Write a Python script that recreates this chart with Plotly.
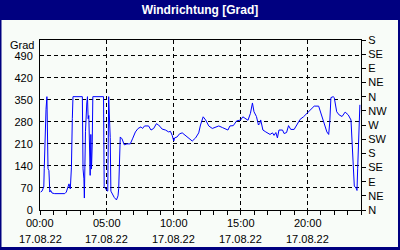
import plotly.graph_objects as go

# ---- data (minutes since 00:00 on 17.08.22, wind direction in degrees)
minutes = [3, 9, 13, 17, 19, 24, 27, 31, 36, 40, 44, 48, 54, 66, 111, 118, 126, 130, 136, 141, 145, 148,
           190, 193, 197, 199, 204, 207, 210, 213, 216, 219, 222, 225, 228, 231, 234, 237,
           285, 288, 300, 304, 308, 315, 318, 324, 333, 343, 350, 353, 357,
           360, 368, 378, 390, 405, 415, 428, 440, 453, 460, 469, 487, 498, 510, 522, 532, 548, 563, 577,
           585, 593, 600, 604, 615, 626, 638, 653, 667, 683, 698, 712, 720, 732, 743, 757, 773, 788, 802,
           818, 833, 843, 852, 867, 882, 892, 900, 910, 923, 933, 944, 953, 960, 971, 980, 986, 990, 994,
           1000, 1013, 1023, 1032, 1043, 1050, 1058, 1065, 1072, 1088, 1095, 1106, 1115, 1125, 1140, 1155,
           1167, 1182, 1197, 1215, 1230, 1250, 1260, 1270, 1279, 1287, 1295, 1300, 1305, 1315, 1320, 1331,
           1342, 1355, 1369, 1383, 1395, 1400, 1405, 1410, 1418, 1422, 1425, 1428, 1435]
grad = [57, 60, 67, 73, 131, 312, 320, 360, 131, 125, 57, 62, 54, 52, 52, 57, 73, 83, 67, 136, 290, 360,
        360, 131, 99, 38, 250, 310, 340, 360, 290, 300, 200, 110, 240, 130, 200, 360,
        360, 74, 62, 60, 360, 230, 60, 50, 40, 32, 45, 68, 185,
        232, 226, 207, 210, 210, 226, 248, 259, 264, 259, 267, 267, 254, 259, 274, 270, 257, 254, 248,
        250, 237, 219, 229, 232, 242, 245, 237, 228, 219, 229, 245, 270, 296, 286, 267, 259, 262, 267,
        262, 256, 254, 267, 268, 283, 285, 286, 296, 290, 285, 307, 340, 312, 297, 270, 275, 286, 270,
        254, 248, 243, 240, 245, 237, 246, 229, 254, 254, 243, 246, 268, 256, 256, 272,
        288, 296, 306, 317, 330, 330, 307, 291, 270, 248, 240, 280, 357, 360, 357, 312,
        302, 297, 311, 302, 286, 216, 131, 76, 70, 62, 131, 222, 334]

x_tickvals = [0, 300, 600, 900, 1200]
x_time_labels = ["00:00", "05:00", "10:00", "15:00", "20:00"]
x_date_labels = ["17.08.22", "17.08.22", "17.08.22", "17.08.22", "17.08.22"]
y_tickvals = [0, 70, 140, 210, 280, 350, 420, 490]
dir_tickvals = [0, 45, 90, 135, 180, 225, 270, 315, 360, 405, 450, 495, 540]
dir_labels = ["N", "NE", "E", "SE", "S", "SW", "W", "NW", "N", "NE", "E", "SE", "S"]

FONT = "Liberation Sans"
NAVY = "#000080"
BG = "#F8FCF8"

W, H = 400, 250
L, R, T, B = 40, 39, 40, 40
PW, PH = W - L - R, H - T - B


def px(x):
    return (x - L) / PW


def py(y):
    return (H - B - y) / PH


fig = go.Figure()
fig.add_trace(go.Scatter(x=minutes, y=grad, mode="lines",
                         line=dict(color="#0000FF", width=1), showlegend=False, hoverinfo="skip"))
fig.add_trace(go.Scatter(x=[0], y=[0], yaxis="y2", mode="markers",
                         marker=dict(size=1, opacity=0), showlegend=False, hoverinfo="skip"))

dash = "4px,3px"
fig.update_layout(
    width=W, height=H,
    margin=dict(l=L, r=R, t=T, b=B, pad=0),
    paper_bgcolor=BG, plot_bgcolor=BG,
    font=dict(family=FONT, size=11, color="black"),
    title=dict(text="<b>Windrichtung [Grad]</b>", x=0.5, xanchor="center", xref="container",
               y=1 - 10 / H, yanchor="middle", yref="container",
               font=dict(family=FONT, size=12, color="white")),
    xaxis=dict(range=[0, 1440], tickmode="array", tickvals=x_tickvals, showticklabels=False,
               showgrid=True, gridcolor="black", griddash=dash, gridwidth=1,
               showline=True, linecolor="black", linewidth=1, mirror=True,
               ticks="outside", ticklen=4, tickcolor="black", zeroline=False,
               minor=dict(dtick=60, tick0=0, ticks="outside", ticklen=4, tickcolor="black", showgrid=False)),
    yaxis=dict(range=[0, 540], tickmode="array", tickvals=y_tickvals,
               showgrid=True, gridcolor="black", griddash=dash, gridwidth=1,
               showline=True, linecolor="black", linewidth=1, ticks="", zeroline=False,
               ticklabelstandoff=4, tickfont=dict(size=11)),
    yaxis2=dict(range=[0, 540], overlaying="y", side="right", tickmode="array",
                tickvals=dir_tickvals, ticktext=dir_labels, showgrid=False,
                showline=True, linecolor="black", linewidth=1, ticks="outside", ticklen=4,
                tickcolor="black", zeroline=False, tickfont=dict(size=11)),
    shapes=[
        dict(type="rect", xref="paper", yref="paper", x0=px(0), x1=px(W), y0=py(20), y1=py(0),
             fillcolor=NAVY, line=dict(width=0), layer="above"),
        dict(type="rect", xref="paper", yref="paper", x0=px(0), x1=px(1.5), y0=py(H), y1=py(0),
             fillcolor=NAVY, line=dict(width=0), layer="above"),
        dict(type="rect", xref="paper", yref="paper", x0=px(W - 2), x1=px(W), y0=py(H), y1=py(0),
             fillcolor=NAVY, line=dict(width=0), layer="above"),
        dict(type="rect", xref="paper", yref="paper", x0=px(0), x1=px(W), y0=py(H), y1=py(H - 3),
             fillcolor=NAVY, line=dict(width=0), layer="above"),
    ],
)

annotations = [dict(text="Grad", xref="paper", yref="paper", x=px(36), y=py(45),
                    xanchor="right", yanchor="middle", showarrow=False, font=dict(size=11))]
for tv, t, d in zip(x_tickvals, x_time_labels, x_date_labels):
    annotations.append(dict(text=t, xref="x", yref="paper", x=tv, y=py(222.5),
                            xanchor="center", yanchor="middle", showarrow=False, font=dict(size=11)))
    annotations.append(dict(text=d, xref="x", yref="paper", x=tv, y=py(239),
                            xanchor="center", yanchor="middle", showarrow=False, font=dict(size=11)))
fig.update_layout(annotations=annotations)

fig.write_html("out.html")
